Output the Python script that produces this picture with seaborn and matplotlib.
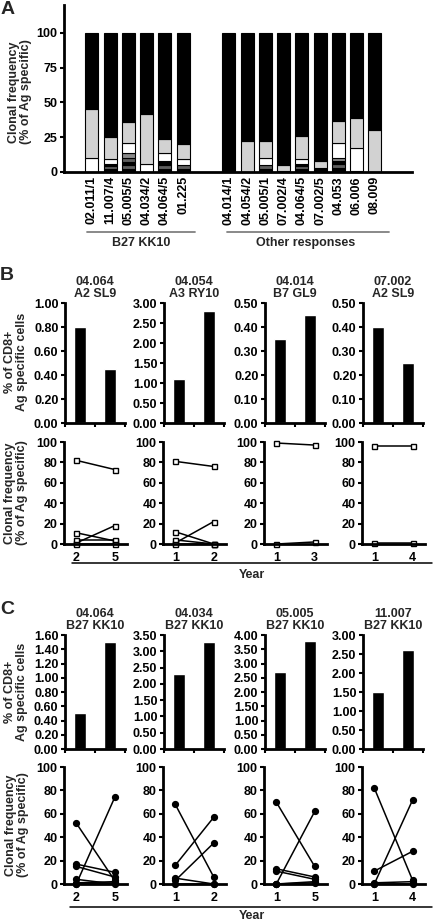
import matplotlib
matplotlib.use("Agg")
import matplotlib.pyplot as plt
import seaborn as sns
import pandas as pd
from matplotlib.lines import Line2D

# ---------------- data ----------------
a_labels_kk10 = ["02.011/1", "11.007/4", "05.005/5", "04.034/2", "04.064/5", "01.225"]
a_labels_other = ["04.014/1", "04.054/2", "05.005/1", "07.002/4", "04.064/5",
                  "07.002/5", "04.053", "06.006", "08.009"]
# cumulative segment tops (bottom -> top) and segment colour codes
a_tops = [
    [10, 45, 100],
    [2, 4, 6, 9, 25, 100],
    [2, 5, 7, 10, 14, 21, 36, 100],
    [6, 42, 100],
    [2, 5, 8, 14, 24, 100],
    [2, 5, 9, 20, 100],
    [1, 100],
    [22, 100],
    [2, 5, 10, 22, 100],
    [1, 5, 100],
    [2, 4, 6, 9, 26, 100],
    [3, 8, 100],
    [3, 6, 8, 10, 21, 37, 100],
    [1, 17, 39, 100],
    [30, 100],
]
a_cols = ["wlk", "kdkwlk", "kdkdmwlk", "wlk", "kdkwlk", "kdwlk", "lk", "lk",
          "kdwlk", "klk", "kdkwlk", "klk", "kdkmwlk", "kwlk", "lk"]

b_titles = ["04.064\nA2 SL9", "04.054\nA3 RY10", "04.014\nB7 GL9", "07.002\nA2 SL9"]
b_bars = [[0.80, 0.45], [1.10, 2.80], [0.35, 0.45], [0.40, 0.25]]
b_ymax = [1.00, 3.00, 0.50, 0.50]
b_ystep = [0.20, 0.50, 0.10, 0.10]
b_years = [["2", "5"], ["1", "2"], ["1", "3"], ["1", "4"]]
b_lines = [
    [[82, 73], [11, 3], [1, 18], [4, 4], [0, 0]],
    [[81, 76], [12, 0], [1, 22], [4, 0], [0, 0]],
    [[99, 97], [0, 2]],
    [[96, 96], [1, 1]],
]

c_titles = ["04.064\nB27 KK10", "04.034\nB27 KK10", "05.005\nB27 KK10", "11.007\nB27 KK10"]
c_bars = [[0.50, 1.50], [2.30, 3.30], [2.70, 3.80], [1.50, 2.60]]
c_ymax = [1.60, 3.50, 4.00, 3.00]
c_ystep = [0.20, 0.50, 0.50, 0.50]
c_years = [["2", "5"], ["1", "2"], ["1", "5"], ["1", "4"]]
c_lines = [
    [[52, 3], [17, 10], [15, 6], [4, 0], [0, 74], [1, 2], [0, 1]],
    [[68, 6], [16, 57], [3, 35], [5, 0], [0, 0]],
    [[70, 15], [0, 62], [13, 6], [11, 4], [0, 2], [0, 1]],
    [[82, 3], [0, 72], [11, 28], [1, 2], [0, 0]],
]

# ---------------- style ----------------
sns.set_style("ticks")
plt.rcParams['font.family'] = ['Liberation Sans', 'DejaVu Sans']
plt.rcParams['font.weight'] = 'bold'
plt.rcParams['axes.titleweight'] = 'bold'
plt.rcParams['axes.labelweight'] = 'bold'

W, H = 433, 921
fig = plt.figure(figsize=(W / 100, H / 100), dpi=100)
FS = 9
SPW = 2.0
cmap = {'k': '#000000', 'd': '#5e5e5e', 'm': '#8a8a8a', 'w': '#ffffff', 'l': '#d2d2d2'}


def px_axes(l, t, r, b):
    return fig.add_axes([l / W, 1 - b / H, (r - l) / W, (b - t) / H])


def style(ax):
    sns.despine(ax=ax)
    for s in ['left', 'bottom']:
        ax.spines[s].set_linewidth(SPW)
        ax.spines[s].set_color('black')
    ax.tick_params(axis='both', labelsize=FS, width=1.5, length=3.2, color='black',
                   pad=1.5, labelcolor='black')
    ax.set_xlabel('')
    ax.set_ylabel('')


def ftext(x, y, s, **kw):
    fig.text(x / W, 1 - y / H, s, **kw)


def fline(x0, x1, y, color='black', lw=1.0):
    fig.add_artist(Line2D([x0 / W, x1 / W], [1 - y / H, 1 - y / H],
                          transform=fig.transFigure, color=color, lw=lw))


# ---------------- panel A ----------------
axA = px_axes(64, 5, 412, 172)
pos = list(range(6)) + [7.5 + i for i in range(9)]
for x, tops, cols in zip(pos, a_tops, a_cols):
    bottom = 0
    for top, c in zip(tops, cols):
        axA.bar(x, top - bottom, bottom=bottom, width=0.71, color=cmap[c],
                edgecolor='black', linewidth=0.8)
        bottom = top
axA.set_xlim(-1.53, 17.53)
axA.set_ylim(0, 120)
axA.set_yticks([0, 25, 50, 75, 100])
style(axA)
axA.set_xticks(pos)
axA.set_xticklabels(a_labels_kk10 + a_labels_other, rotation=90)
axA.tick_params(axis='x', length=0, pad=3)
fline(87, 195, 232, color='#808080', lw=1.3)
fline(227, 389, 232, color='#808080', lw=1.3)
ftext(141, 243, "B27 KK10", ha='center', va='center', fontsize=FS)
ftext(306, 243, "Other responses", ha='center', va='center', fontsize=FS)
ftext(20, 92, "Clonal frequency\n(% of Ag specific)", rotation=90, ha='center',
      va='center', fontsize=FS, multialignment='center', linespacing=1.1)
ftext(8, 10, "A", ha='center', va='center', fontsize=14)

lefts = [65, 164, 265, 363]


def bar_panel(l, t, b, vals, ymax, ystep, title):
    ax = px_axes(l, t, l + 60, b)
    df = pd.DataFrame({'yr': ['y1', 'y2'], 'v': vals})
    sns.barplot(data=df, x='yr', y='v', color='black', saturation=1, width=0.43,
                ax=ax, errorbar=None)
    ax.set_xlim(-0.5, 1.5)
    ax.set_ylim(0, ymax)
    n = int(round(ymax / ystep))
    ticks = [i * ystep for i in range(n + 1)]
    ax.set_yticks(ticks)
    ax.set_yticklabels([f"{v:.2f}" for v in ticks])
    style(ax)
    ax.set_xticks([-0.5, 0.5, 1.5])
    ax.set_xticklabels([])
    ax.set_title(title, fontsize=FS, pad=4, linespacing=1.1)
    return ax


def line_panel(l, t, b, lines, years, marker, face, msize):
    ax = px_axes(l - 1, t, l + 62, b)
    rows = []
    for i, (a, c) in enumerate(lines):
        rows.append((i, 0, a))
        rows.append((i, 1, c))
    df = pd.DataFrame(rows, columns=['clone', 't', 'v'])
    sns.lineplot(data=df, x='t', y='v', units='clone', estimator=None, color='black',
                 marker=marker, markersize=msize, markerfacecolor=face,
                 markeredgecolor='black', markeredgewidth=1.0, linewidth=1.1,
                 ax=ax, clip_on=False)
    ax.set_xlim(-0.32, 1.32)
    ax.set_ylim(0, 100)
    ax.set_yticks([0, 20, 40, 60, 80, 100])
    style(ax)
    ax.set_xticks([0, 1])
    ax.set_xticklabels(years)
    ax.tick_params(axis='x', length=0, pad=6)
    return ax


# ---------------- panel B ----------------
for i in range(4):
    bar_panel(lefts[i], 303, 423, b_bars[i], b_ymax[i], b_ystep[i], b_titles[i])
    line_panel(lefts[i], 442, 544, b_lines[i], b_years[i], 's', 'white', 3.6)
ftext(16, 362, "% of CD8+\nAg specific cells", rotation=90, ha='center', va='center',
      fontsize=FS, multialignment='center', linespacing=1.1)
ftext(16, 493, "Clonal frequency\n(% of Ag specific)", rotation=90, ha='center',
      va='center', fontsize=FS, multialignment='center', linespacing=1.1)
fline(72, 432, 563, lw=1.1)
ftext(252, 575, "Year", ha='center', va='center', fontsize=FS)
ftext(7, 276, "B", ha='center', va='center', fontsize=14)

# ---------------- panel C ----------------
for i in range(4):
    bar_panel(lefts[i], 635, 749, c_bars[i], c_ymax[i], c_ystep[i], c_titles[i])
    line_panel(lefts[i], 767, 884, c_lines[i], c_years[i], 'o', 'black', 4.2)
ftext(16, 692, "% of CD8+\nAg specific cells", rotation=90, ha='center', va='center',
      fontsize=FS, multialignment='center', linespacing=1.1)
ftext(17, 825, "Clonal frequency\n(% of Ag specific)", rotation=90, ha='center',
      va='center', fontsize=FS, multialignment='center', linespacing=1.1)
fline(70, 432, 907, lw=1.1)
ftext(252, 916, "Year", ha='center', va='center', fontsize=FS)
ftext(7, 610, "C", ha='center', va='center', fontsize=14)

fig.savefig("out.png", dpi=100)
